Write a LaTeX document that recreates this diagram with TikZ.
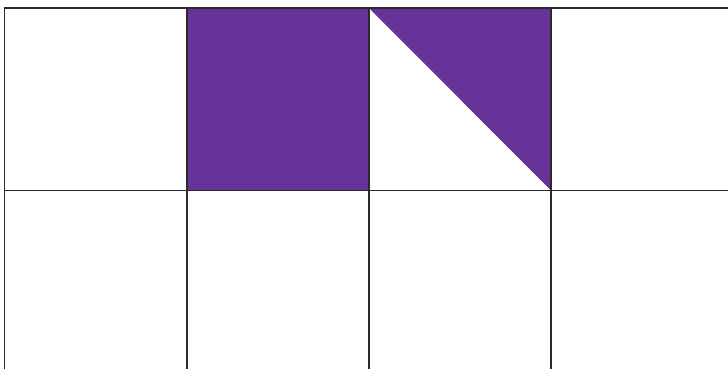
\documentclass[tikz,border=0pt]{standalone}
\definecolor{purp}{HTML}{663399}
\definecolor{gridline}{HTML}{2A2A2A}
\begin{document}
\begin{tikzpicture}[x=1pt,y=-1pt, gridstyle/.style={draw=gridline,line width=1.4pt}]
\useasboundingbox[fill=white] (0,0) rectangle (728,369);
\coordinate (a) at (187,8);
\coordinate (b) at (369,8);
\coordinate (c) at (551,8);
\coordinate (d) at (551,190.5);
\coordinate (e) at (187,190.5);
\coordinate (f) at (369,190.5);
\fill[purp] (a) rectangle (f);
\fill[purp] (b) -- (c) -- (d) -- cycle;
\draw[gridstyle] (4.5,369) -- (4.5,8) -- (728,8);
\draw[gridstyle] (4.5,190.5) -- (728,190.5);
\draw[gridstyle] (187,8) -- (187,369);
\draw[gridstyle] (369,8) -- (369,369);
\draw[gridstyle] (551,8) -- (551,369);
\end{tikzpicture}
\end{document}
